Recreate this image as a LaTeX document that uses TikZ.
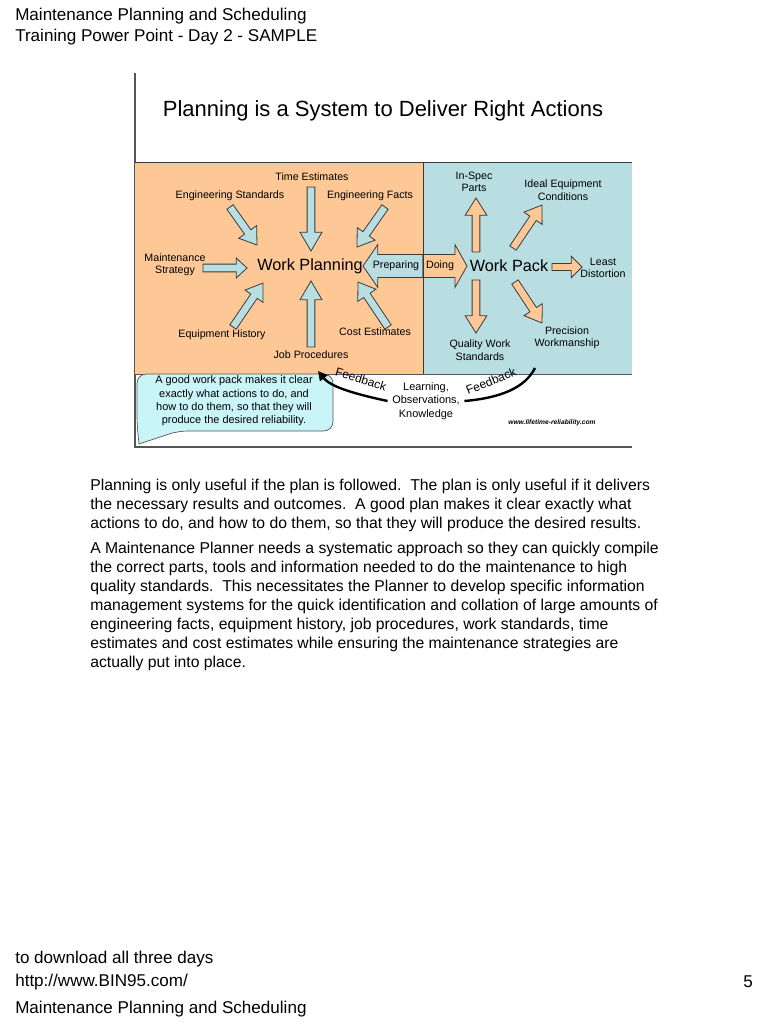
\documentclass[tikz,border=0pt]{standalone}
\usepackage{fontspec}
\setmainfont{Liberation Sans}
\usetikzlibrary{calc, arrows.meta, positioning}

\definecolor{planorange}{HTML}{FDC896}
\definecolor{packblue}{HTML}{B8DEE2}
\definecolor{tipcyan}{HTML}{C9F4F8}
\definecolor{frameline}{HTML}{555555}
\definecolor{arrline}{HTML}{3A3A3A}

% block arrow: fill, shaft half width, head half width, head length, tail, tip
\newcommand{\blockarrow}[6]{%
  \path ($(#6)!#4!(#5)$) coordinate (hb);
  \filldraw[fill=#1, draw=arrline, line width=0.6pt, line join=miter]
    ($(#5)!#2!90:(#6)$) -- ($(hb)!#2!90:(#6)$) -- ($(hb)!#3!90:(#6)$)
    -- (#6) -- ($(hb)!#3!-90:(#6)$) -- ($(hb)!#2!-90:(#6)$)
    -- ($(#5)!#2!-90:(#6)$) -- cycle;
}

\begin{document}
\begin{tikzpicture}[x=0.75pt, y=-0.75pt,
    page/.style={font=\fontsize{12.8}{14.2}\selectfont, anchor=west, inner sep=0pt},
    body/.style={font=\fontsize{11.8}{14.2}\selectfont, align=left, anchor=north west, inner sep=0pt},
    small/.style={font=\fontsize{8}{9.3}\selectfont, align=center, inner sep=1pt},
    core/.style={font=\fontsize{12.2}{14}\selectfont, inner sep=1pt},
    fbtext/.style={font=\fontsize{9}{10}\selectfont, inner sep=0pt},
    fbarrow/.style={-{Triangle[length=7pt, width=7pt]}, line width=1.8pt}
]
    \useasboundingbox (0,0) rectangle (768,1024);
    \fill[white] (0,0) rectangle (768,1024);

    % page header
    \node[page] (hd1) at (15,16) {Maintenance Planning and Scheduling};
    \node[page] (hd2) at (15,37) {Training Power Point - Day 2 - SAMPLE};

    % slide frame and title
    \draw[frameline, line width=0.8pt] (135,73) -- (135,447) -- (632,447);
    \node[font=\fontsize{16.5}{20}\selectfont] (title) at (383,111) {Planning is a System to Deliver Right Actions};

    % the two panels
    \fill[planorange] (135,162) rectangle (423,374);
    \fill[packblue] (423,162) rectangle (632,374);
    \draw[arrline, line width=0.6pt] (135,162) -- (632,162);
    \draw[frameline, line width=0.6pt] (135,374) -- (632,374);

    % arrow end points
    \path (311,187) coordinate (te-t) (311,251) coordinate (te-h);
    \path (230,207) coordinate (es-t) (257,245) coordinate (es-h);
    \path (385,207) coordinate (ef-t) (357,247) coordinate (ef-h);
    \path (203,268) coordinate (ms-t) (247,268) coordinate (ms-h);
    \path (233,327) coordinate (eh-t) (263,283) coordinate (eh-h);
    \path (311,347) coordinate (jp-t) (311,281) coordinate (jp-h);
    \path (388,327) coordinate (ce-t) (358,282) coordinate (ce-h);
    \path (476,252) coordinate (isp-t) (476,198) coordinate (isp-h);
    \path (513,248) coordinate (iec-t) (542,205) coordinate (iec-h);
    \path (552,267) coordinate (ld-t) (582,267) coordinate (ld-h);
    \path (476,280) coordinate (qws-t) (476,333) coordinate (qws-h);
    \path (515,282) coordinate (pw-t) (542,323) coordinate (pw-h);
    \path (423,266) coordinate (mid) (363,266) coordinate (prep-h) (467,266) coordinate (doing-h);

    % inputs to work planning
    \blockarrow{packblue}{2.9pt}{8.2pt}{14pt}{te-t}{te-h}
    \blockarrow{packblue}{2.9pt}{8.2pt}{12pt}{es-t}{es-h}
    \blockarrow{packblue}{2.9pt}{8.2pt}{12pt}{ef-t}{ef-h}
    \blockarrow{packblue}{2.9pt}{7.5pt}{8pt}{ms-t}{ms-h}
    \blockarrow{packblue}{2.9pt}{8.2pt}{12pt}{eh-t}{eh-h}
    \blockarrow{packblue}{2.9pt}{8.2pt}{14pt}{jp-t}{jp-h}
    \blockarrow{packblue}{2.9pt}{8.2pt}{12pt}{ce-t}{ce-h}
    % outputs of work pack
    \blockarrow{planorange}{2.9pt}{8.2pt}{13pt}{isp-t}{isp-h}
    \blockarrow{planorange}{2.9pt}{8.2pt}{12pt}{iec-t}{iec-h}
    \blockarrow{planorange}{2.6pt}{8pt}{8pt}{ld-t}{ld-h}
    \blockarrow{planorange}{2.9pt}{8.2pt}{13pt}{qws-t}{qws-h}
    \blockarrow{planorange}{2.9pt}{8.2pt}{12pt}{pw-t}{pw-h}
    % preparing and doing
    \blockarrow{packblue}{8.6pt}{16pt}{11pt}{mid}{prep-h}
    \blockarrow{planorange}{8.6pt}{16pt}{9pt}{mid}{doing-h}
    \draw[arrline, line width=0.6pt] (423,162) -- (423,374);

    % labels
    \node[small] (te) at (312,177) {Time Estimates};
    \node[small] (es) at (230,196) {Engineering Standards};
    \node[small] (ef) at (370,196) {Engineering Facts};
    \node[small] (ms) at (175,265) {Maintenance\\Strategy};
    \node[small] (eh) at (222,335) {Equipment History};
    \node[small] (jp) at (311,355) {Job Procedures};
    \node[small] (ce) at (375,332) {Cost Estimates};
    \node[core] (wpl) at (310,266) {Work Planning};
    \node[small] (prep) at (396,266) {Preparing};
    \node[small] (doing) at (440,266) {Doing};
    \node[core] (wpk) at (509,266) {Work Pack};
    \node[small] (isp) at (474,182) {In-Spec\\Parts};
    \node[small] (iec) at (563,190) {Ideal Equipment\\Conditions};
    \node[small] (ld) at (603,268) {Least\\Distortion};
    \node[small] (qws) at (480,350) {Quality Work\\Standards};
    \node[small] (pw) at (567,338) {Precision\\Workmanship};

    % callout
    \filldraw[fill=tipcyan, draw=frameline, line width=0.5pt]
        (137,374) [rounded corners=7pt] -- (333,374) -- (333,431) -- (178,431)
        [sharp corners] -- (139,444) [rounded corners=7pt] -- (137,424) -- cycle;
    \node[font=\fontsize{8.2}{10}\selectfont, align=center] (tiptext) at (234,401)
        {A good work pack makes it clear\\exactly what actions to do, and\\how to do them, so that they will\\produce the desired reliability.};

    % feedback loop
    \node[font=\fontsize{8.2}{10}\selectfont, align=center] (lok) at (426,401) {Learning,\\Observations,\\Knowledge};
    \coordinate (fbtip) at (318,371);
    \coordinate (fbend) at (535,368);
    \draw[fbarrow] (lok.west) .. controls (350,393) and (330,386) .. (fbtip);
    \draw[line width=1.8pt] (lok.east) .. controls (500,398) and (525,388) .. (fbend);
    \node[fbtext, rotate=-17] (fb1) at (361,379) {Feedback};
    \node[fbtext, rotate=22] (fb2) at (491,381) {Feedback};
    \node[font=\fontsize{5}{6}\selectfont\bfseries\itshape] (web) at (552,423) {www.lifetime-reliability.com};

    % page text
    \node[body] (para1) at (90,479) {Planning is only useful if the plan is followed.\ \ The plan is only useful if it delivers\\the necessary results and outcomes.\ \ A good plan makes it clear exactly what\\actions to do, and how to do them, so that they will produce the desired results.};
    \node[body] (para2) at (90,542) {A Maintenance Planner needs a systematic approach so they can quickly compile\\the correct parts, tools and information needed to do the maintenance to high\\quality standards.\ \ This necessitates the Planner to develop specific information\\management systems for the quick identification and collation of large amounts of\\engineering facts, equipment history, job procedures, work standards, time\\estimates and cost estimates while ensuring the maintenance strategies are\\actually put into place.};

    % page footer
    \node[page] (ft1) at (15,959) {to download all three days};
    \node[page] (ft2) at (15,982) {http://www.BIN95.com/};
    \node[page, anchor=center] (pgno) at (748,982) {5};
    \node[page] (ft3) at (15,1009) {Maintenance Planning and Scheduling};
\end{tikzpicture}
\end{document}
